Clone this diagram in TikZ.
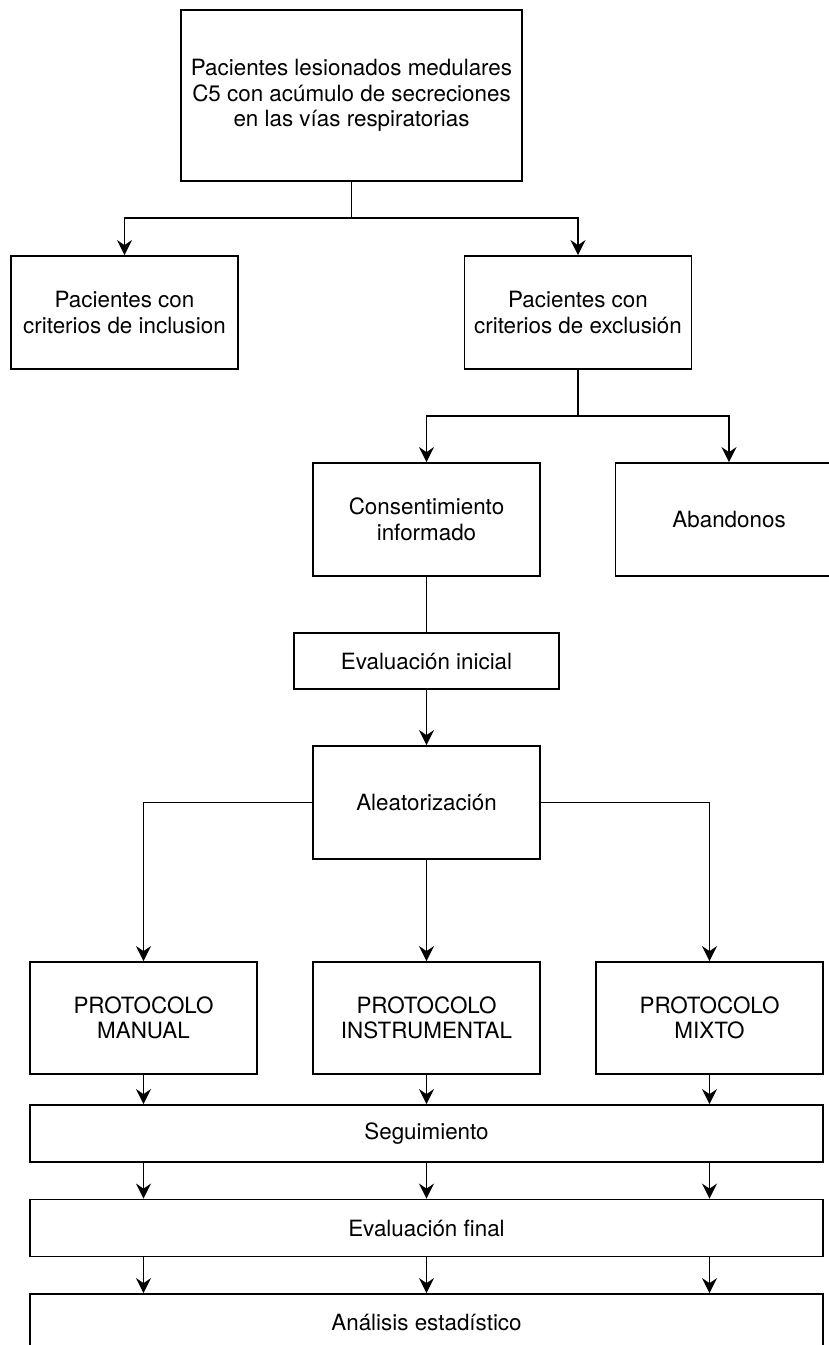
\documentclass[tikz,border=0pt]{standalone}
\usepackage{fontspec}
\setmainfont{TeX Gyre Heros}
\usetikzlibrary{arrows.meta}
\begin{document}
\begin{tikzpicture}[x=1pt, y=-1pt, line width=1.8pt,
    every node/.style = {shape=rectangle, draw, align=center, inner sep=0pt,
        font=\fontsize{22.4}{25.5}\selectfont, minimum width=227pt, minimum height=113pt}]
			\tikzstyle{arr}=[-{Stealth[length=15pt, width=15pt, inset=5pt]}]
			\tikzstyle{wide}=[minimum width=793pt, minimum height=57pt]
			\useasboundingbox (0,0) rectangle (829,1345);
			\node (top) [minimum width=341pt, minimum height=171pt] at (351.5,95.5) {Pacientes lesionados medulares\\C5 con acúmulo de secreciones\\en las vías respiratorias};
			\node (incl) at (124.5,312.5) {Pacientes con\\criterios de inclusion};
			\node (excl) at (578,312.5) {Pacientes con\\criterios de exclusión};
			\node (cons) at (426.5,519.5) {Consentimiento\\informado};
			\node (aband) at (729,519.5) {Abandonos};
			\node (evini) [minimum width=265pt, minimum height=56pt] at (426.5,661) {Evaluación inicial};
			\node (aleat) at (426.5,802.5) {Aleatorización};
			\node (pman) [minimum height=112pt] at (143.5,1018) {PROTOCOLO\\MANUAL};
			\node (pins) [minimum height=112pt] at (426.5,1018) {PROTOCOLO\\INSTRUMENTAL};
			\node (pmix) [minimum height=112pt] at (709.5,1018) {PROTOCOLO\\MIXTO};
			\node (segui) [wide] at (426.5,1133.5) {Seguimiento};
			\node (evfin) [wide] at (426.5,1228) {Evaluación final};
			\node (anal) [wide] at (426.5,1322.5) {Análisis estadístico};
			\coordinate (j1) at (351.5,218);
			\coordinate (j2) at (578,416);
			\draw (top) -- (j1);
			\draw[arr] (j1) -| (incl);
			\draw[arr] (j1) -| (excl);
			\draw (excl) -- (j2);
			\draw[arr] (j2) -| (cons);
			\draw[arr] (j2) -| (aband);
			\draw (cons) -- (evini);
			\draw[arr] (evini) -- (aleat);
			\draw[arr] (aleat.west) -| (pman);
			\draw[arr] (aleat) -- (pins);
			\draw[arr] (aleat.east) -| (pmix);
			\foreach \p in {pman, pins, pmix} {
				\draw[arr] (\p) -- (\p |- segui.north);
				\draw[arr] (\p |- segui.south) -- (\p |- evfin.north);
				\draw[arr] (\p |- evfin.south) -- (\p |- anal.north);
			}
		\end{tikzpicture}
\end{document}
